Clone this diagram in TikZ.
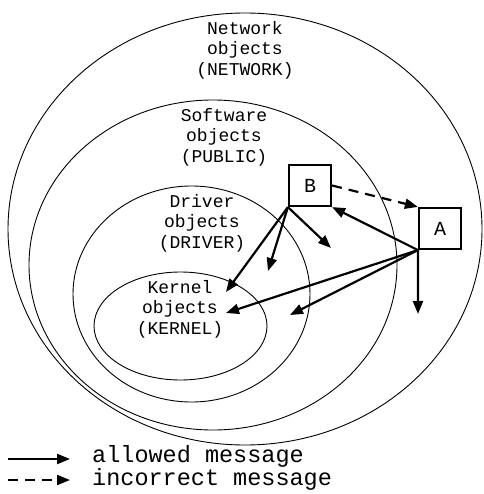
\documentclass[tikz,border=0pt]{standalone}
\usepackage{fontspec}
\setmonofont{Liberation Mono}
\usepackage{tikz}
\usetikzlibrary{arrows.meta}

\begin{document}
\begin{tikzpicture}[x=1pt, y=-1pt,
  layer/.style = {line width=0.9pt},
  every node/.style = {
     align=center, inner sep=0pt,
     font=\ttfamily\fontsize{18}{20.5}\selectfont},
  objbox/.style = {draw, line width=2.2pt, minimum width=42pt,
     minimum height=41pt, font=\ttfamily\fontsize{20}{22}\selectfont},
  legend/.style = {anchor=west, text height=12pt, text depth=3pt,
     font=\ttfamily\fontsize{23.5}{23.5}\selectfont},
  msg/.style = {line width=2.2pt, -{Triangle[length=13pt,width=10pt]}},
  badmsg/.style = {msg, dash pattern=on 10pt off 7pt}]
  \useasboundingbox (0,0) rectangle (483,494);

  % the four levels
  \draw[layer] (245,229) ellipse [x radius=237, y radius=216];
  \draw[layer] (213,265) ellipse [x radius=184, y radius=165];
  \draw[layer] (191.5,294) ellipse [x radius=118.5, y radius=108];
  \draw[layer] (180.5,326) ellipse [x radius=86.5, y radius=54];

  \node (network) at (245,50) {Network\\objects\\(NETWORK)};
  \node (public) at (224,137) {Software\\objects\\(PUBLIC)};
  \node (driver) at (202,223) {Driver\\objects\\(DRIVER)};
  \node (kernel) at (180,309) {Kernel\\objects\\(KERNEL)};

  % the two objects
  \node[objbox] (B) at (310,185.5) {B};
  \node[objbox] (A) at (440,228.5) {A};

  \coordinate (b1) at (226,292);
  \coordinate (b2) at (268,271);
  \coordinate (b3) at (331,248);
  \coordinate (a1) at (226,313);
  \coordinate (a2) at (290,315);
  \coordinate (a3) at (418,314);

  \draw[msg] (B.south west) -- (b1);
  \draw[msg] (B.south west) -- (b2);
  \draw[msg] (B.south west) -- (b3);
  \draw[msg] (A.south west) -- (B.south east);
  \draw[msg] (A.south west) -- (a1);
  \draw[msg] (A.south west) -- (a2);
  \draw[msg] (A.south west) -- (a3);
  \draw[badmsg] (B.east) -- (A.north west);

  % legend
  \coordinate (l1) at (8,459);
  \coordinate (l2) at (70,459);
  \coordinate (l3) at (8,480);
  \coordinate (l4) at (70,480);
  \draw[msg] (l1) -- (l2);
  \draw[badmsg] (l3) -- (l4);
  \node[legend] (allowed) at (92,458) {allowed message};
  \node[legend] (incorrect) at (92,481) {incorrect message};
\end{tikzpicture}
\end{document}
